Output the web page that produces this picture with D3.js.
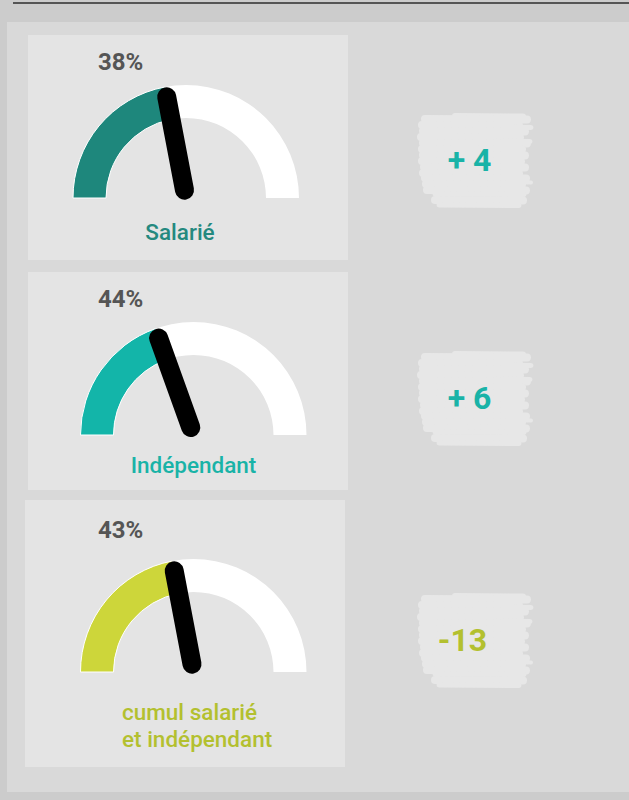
<!DOCTYPE html>
<html>
<head>
<meta charset="utf-8">
<script src="https://cdn.jsdelivr.net/npm/d3@7"></script>
<style>
  html, body { margin: 0; padding: 0; background: #cccccc; }
  svg { display: block; font-family: Roboto, "Noto Sans", sans-serif; }
</style>
</head>
<body>
<svg id="chart" width="629" height="800"></svg>
<script>
// ---- data ----
const categories = [["Salarié"], ["Indépendant"], ["cumul salarié", "et indépendant"]];
const shares = [38, 44, 43];            // printed percentage above each dial
const dialPositions = [44, 39, 44];     // where the needle / fill sits on each dial (as drawn)
const changes = [4, 6, -13];            // figure in the brush badge
const gaugeDomain = [0, 100];

// ---- styles ----
const arcColors = ["#1e877c", "#13b5a9", "#cdd63a"];
const textColors = ["#24897f", "#19b3a7", "#b3c02f"];
const badgeColors = ["#19b3a7", "#19b3a7", "#b3c02f"];

// ---- layout ----
const rows = [
  {panel: [28, 35, 320, 225], cx: 186, cy: 198, pctX: 98, pctY: 70, labX: 180, labY: 240, anchor: "middle", bCy: 160, tX: 469.5},
  {panel: [28, 272, 320, 218], cx: 193.5, cy: 435, pctX: 98, pctY: 307, labX: 193.5, labY: 473, anchor: "middle", bCy: 398, tX: 469.5},
  {panel: [25, 500, 320, 267], cx: 193.5, cy: 672, pctX: 98, pctY: 538, labX: 122, labY: 720, anchor: "start", bCy: 640, tX: 462.5}
];
const R_OUT = 113, R_IN = 80;

const svg = d3.select("#chart");

// page background & frame
svg.append("rect").attr("x", 0).attr("y", 0).attr("width", 629).attr("height", 800).attr("fill", "#cccccc");
svg.append("line").attr("x1", 13).attr("x2", 629).attr("y1", 3).attr("y2", 3)
  .attr("stroke", "#555555").attr("stroke-width", 2);
svg.append("rect").attr("x", 7).attr("y", 22).attr("width", 622).attr("height", 770).attr("fill", "#d9d9d9");

const angle = d3.scaleLinear().domain(gaugeDomain).range([-Math.PI / 2, Math.PI / 2]);
const arc = d3.arc().innerRadius(R_IN).outerRadius(R_OUT);

// brush-stroke badge shape (decorative): [dy, x-left, x-right, width] relative to badge centre
const brush = [
  [-44, -20, 48, 6], [-41, -50, 52, 8], [-35, -53, 44, 8], [-33, 30, 56, 5], [-29, -52, 50, 8],
  [-23, -54, 45, 8], [-19, 20, 55, 5], [-17, -52, 52, 8], [-11, -53, 47, 8], [-5, -52, 50, 8],
  [1, -53, 46, 8], [7, -51, 50, 8], [13, -52, 44, 8], [18, -50, 51, 8], [22, 10, 56, 4],
  [24, -49, 47, 8], [30, -48, 51, 8], [34, -40, 49, 5], [40, -40, 48, 8], [45, -36, 44, 5]
];

const g = svg.selectAll("g.row").data(categories).join("g").attr("class", "row");

g.each(function (cat, i) {
  const r = rows[i];
  const sel = d3.select(this);
  sel.append("rect").attr("x", r.panel[0]).attr("y", r.panel[1])
    .attr("width", r.panel[2]).attr("height", r.panel[3]).attr("fill", "#e4e4e4");

  const gauge = sel.append("g").attr("transform", `translate(${r.cx},${r.cy})`);
  gauge.append("path")
    .attr("d", arc({startAngle: angle(gaugeDomain[0]), endAngle: angle(gaugeDomain[1])}))
    .attr("fill", "#ffffff");
  gauge.append("path")
    .attr("d", arc({startAngle: angle(gaugeDomain[0]), endAngle: angle(dialPositions[i])}))
    .attr("fill", arcColors[i]).attr("stroke", "#ffffff").attr("stroke-width", 1);

  const a = angle(dialPositions[i]);
  gauge.append("line")
    .attr("x1", 8 * Math.sin(a)).attr("y1", -8 * Math.cos(a))
    .attr("x2", 103 * Math.sin(a)).attr("y2", -103 * Math.cos(a))
    .attr("stroke", "#000").attr("stroke-width", 19).attr("stroke-linecap", "round");

  sel.append("text").attr("x", r.pctX).attr("y", r.pctY)
    .attr("font-size", 24).attr("font-weight", 700).attr("fill", "#555555")
    .text(d3.format("d")(shares[i]) + "%");

  const lab = sel.append("text").attr("text-anchor", r.anchor)
    .attr("font-size", 22.5).attr("font-weight", 500).attr("fill", textColors[i]);
  cat.forEach((line, k) => {
    lab.append("tspan").attr("x", r.labX).attr("y", r.labY + k * 27).text(line);
  });

  const badge = sel.append("g").attr("transform", `translate(475,${r.bCy})`);
  badge.selectAll("line").data(brush).join("line")
    .attr("x1", d => d[1]).attr("x2", d => d[2])
    .attr("y1", d => d[0]).attr("y2", d => d[0] + 0.5)
    .attr("stroke", "#e7e7e7").attr("stroke-width", d => d[3]).attr("stroke-linecap", "round");
  const v = changes[i];
  sel.append("text").attr("x", r.tX).attr("y", r.bCy + 11)
    .attr("text-anchor", "middle").attr("font-size", 32).attr("font-weight", 700)
    .attr("fill", badgeColors[i])
    .text(v >= 0 ? "+ " + v : "-" + Math.abs(v));
});
</script>
</body>
</html>
